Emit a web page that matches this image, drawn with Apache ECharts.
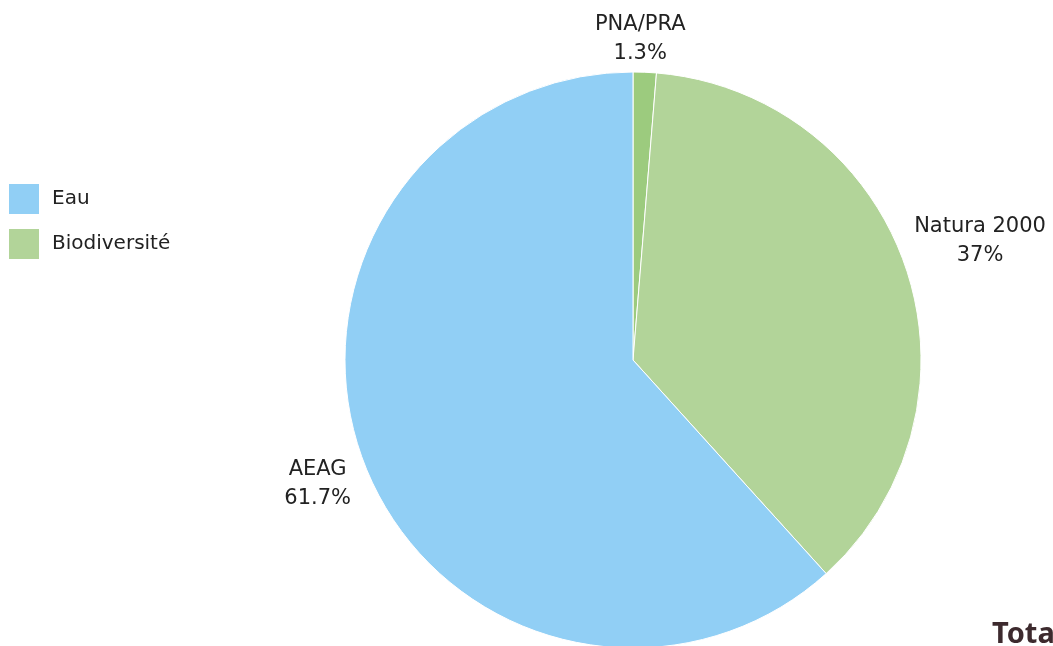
<!DOCTYPE html>
<html>
<head>
<meta charset="utf-8">
<script src="https://cdn.jsdelivr.net/npm/echarts@6/dist/echarts.min.js"></script>
<style>
  html, body { margin: 0; padding: 0; background: #fff; }
  #chart { width: 1053px; height: 646px; }
</style>
</head>
<body>
<div id="chart"></div>
<script>
// slices, clockwise from the top
const sliceNames = ['PNA/PRA', 'Natura 2000', 'AEAG']
const sliceValues = [1.3, 37, 61.7]
const sliceColors = ['#9ccb7e', '#b2d499', '#91cff5']
// legend groups
const groupNames = ['Eau', 'Biodiversité']
const groupColors = ['#91cff5', '#b2d499']

const myChart = echarts.init(document.getElementById('chart'))
const font = 'DejaVu Sans'
const cx = 633, cy = 360

const option = {
  animation: false,
  title: {
    text: 'Total',
    left: 987,
    top: 615,
    textStyle: { fontFamily: 'Noto Sans', fontSize: 29, fontWeight: 'bold', color: '#3d2a2e' }
  },
  legend: {
    orient: 'vertical',
    left: 9,
    top: 184,
    padding: 0,
    itemWidth: 30,
    itemHeight: 30,
    itemGap: 15,
    icon: 'rect',
    data: groupNames,
    textStyle: { fontFamily: font, fontSize: 20, color: '#222', padding: [0, 0, 0, 8] }
  },
  series: [
    {
      type: 'pie',
      center: [cx, cy],
      radius: [0, 288],
      startAngle: 90,
      clockwise: true,
      itemStyle: { borderColor: '#fff', borderWidth: 1 },
      label: {
        show: true,
        position: 'outside',
        formatter: '{b}\n{c}%',
        fontFamily: font,
        fontSize: 21,
        lineHeight: 29,
        color: '#222',
        overflow: 'none',
        edgeDistance: 0
      },
      labelLine: { show: false, length: 12, length2: 0 },
      labelLayout: function (p) {
        const r = p.labelRect
        const right = r.x + r.width / 2 > cx
        const anchorX = right ? r.x : r.x + r.width
        const anchorY = r.y + r.height / 2
        const out = { align: 'center' }
        if (Math.abs(anchorX - cx) < 40) {
          out.x = anchorX - 10
        } else {
          out.x = right ? anchorX + r.width / 2 - 8 : anchorX - r.width / 2 + 3
        }
        if (anchorY < cy) {
          out.y = anchorY + (Math.abs(anchorX - cx) < 40 ? 8 : 6)
          out.verticalAlign = 'bottom'
        } else {
          out.y = anchorY - 13
          out.verticalAlign = 'top'
        }
        return out
      },
      emphasis: { disabled: true },
      data: sliceNames.map((n, i) => ({ name: n, value: sliceValues[i], itemStyle: { color: sliceColors[i] } }))
    },
    {
      // legend-only series for the two groups
      type: 'pie',
      center: [cx, cy],
      radius: [0, 0],
      silent: true,
      label: { show: false },
      labelLine: { show: false },
      stillShowZeroSum: false,
      data: groupNames.map((n, i) => ({ name: n, value: 0, itemStyle: { color: groupColors[i] } }))
    }
  ]
}

myChart.setOption(option)
window.onresize = () => {
  myChart.resize()
}
</script>
</body>
</html>
